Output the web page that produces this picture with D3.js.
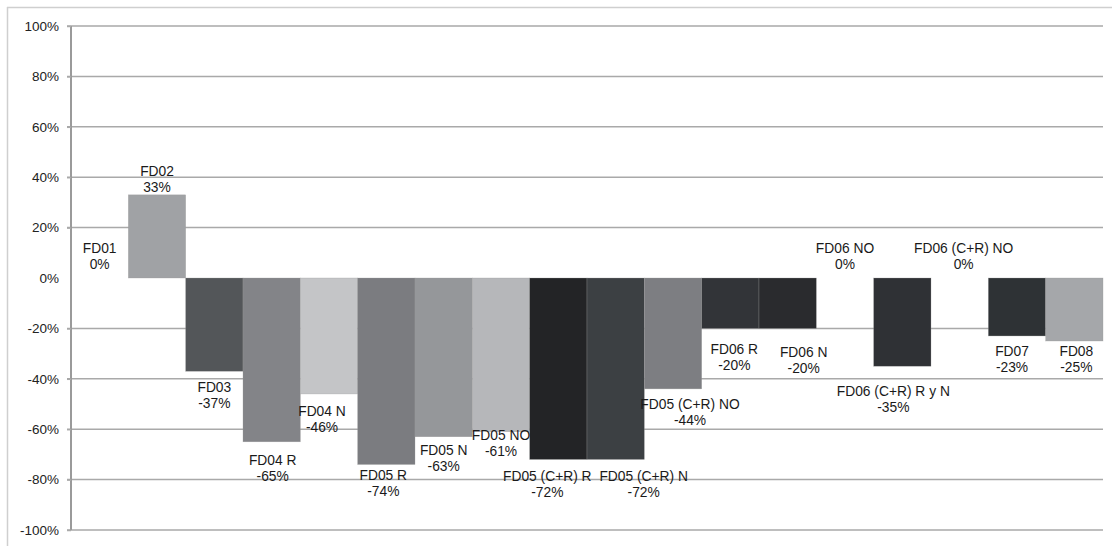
<!DOCTYPE html>
<html>
<head>
<meta charset="utf-8">
<script src="https://cdn.jsdelivr.net/npm/d3@7"></script>
<style>
  html, body { margin: 0; padding: 0; background: #fff; }
  svg { display: block; }
</style>
</head>
<body>
<svg id="chart" width="1112" height="546"></svg>
<script>
// ---- data ----
const categories = ["FD01", "FD02", "FD03", "FD04 R", "FD04 N", "FD05 R", "FD05 N", "FD05 NO",
  "FD05 (C+R) R", "FD05 (C+R) N", "FD05 (C+R) NO", "FD06 R", "FD06 N", "FD06 NO",
  "FD06 (C+R) R y N", "FD06 (C+R) NO", "FD07", "FD08"];
const values = [0, 33, -37, -65, -46, -74, -63, -61, -72, -72, -44, -20, -20, 0, -35, 0, -23, -25];
const yTicks = [-100, -80, -60, -40, -20, 0, 20, 40, 60, 80, 100];

// ---- styles / layout (not data) ----
const barColors = ["#ffffff", "#a0a2a5", "#535659", "#838488", "#c4c5c7", "#7b7c80", "#95979a", "#b6b7ba",
  "#232426", "#3c4043", "#7d7e82", "#323438", "#2a2b2e", "#ffffff", "#2f3135", "#ffffff", "#2e3235", "#a5a7aa"];
// manual label nudges (px) relative to band centre / bar end, like the hand-moved labels of the original
const labelDx = [0, 0, 0, 1, -7, -3, 0, 0, -11, 28, 17, 4, 16, 0, -9, 4, -5, 2];
const labelDy = [-30, -24, 16, 18, 17, 11, 13, 3, 17, 17, 15, 21, 24, -30, 25, -30, 15, 10];

const svg = d3.select("#chart");
const mLeft = 71, mRight = 1103, mTop = 26, mBottom = 530;

// outer frame lines
svg.append("line").attr("x1", 7).attr("x2", 1112).attr("y1", 7.5).attr("y2", 7.5)
  .attr("stroke", "#cfcfcf").attr("stroke-width", 1.5);
svg.append("line").attr("x1", 7.5).attr("x2", 7.5).attr("y1", 7).attr("y2", 546)
  .attr("stroke", "#cfcfcf").attr("stroke-width", 1.5);

const x = d3.scaleBand().domain(categories).range([mLeft, mRight]).padding(0);
const y = d3.scaleLinear().domain([-100, 100]).range([mBottom, mTop]);

// gridlines (no line at 0)
svg.append("g").selectAll("line").data(yTicks.filter(t => t !== 0)).join("line")
  .attr("x1", mLeft - 4).attr("x2", mRight)
  .attr("y1", d => y(d)).attr("y2", d => y(d))
  .attr("stroke", "#a9a9a9").attr("stroke-width", 1.5);

// bars
svg.append("g").selectAll("rect").data(values.map((v, i) => ({ v, i })).filter(d => d.v !== 0)).join("rect")
  .attr("x", d => x(categories[d.i]))
  .attr("width", x.bandwidth())
  .attr("y", d => y(Math.max(0, d.v)))
  .attr("height", d => Math.abs(y(d.v) - y(0)))
  .attr("fill", d => barColors[d.i])
  .attr("stroke", "#9a9a9a").attr("stroke-width", 0.5).attr("stroke-opacity", 0.6);

// y axis
const yAxis = d3.axisLeft(y).tickValues(yTicks).tickFormat(d => d + "%").tickSize(4).tickPadding(8);
const ga = svg.append("g").attr("transform", `translate(${mLeft},0)`).call(yAxis);
ga.select(".domain").attr("stroke", "#9a9a9a").attr("stroke-width", 2).attr("d", `M0,${mTop}V${mBottom}`);
ga.selectAll(".tick line").attr("stroke", "#a9a9a9").attr("stroke-width", 1.5);
ga.selectAll(".tick text").attr("font-family", "Liberation Sans, Arial, sans-serif")
  .attr("font-size", "13.5px").attr("fill", "#222");
ga.selectAll(".tick").filter(d => d === 0).select("line").remove();

// data labels
const lab = svg.append("g").attr("font-family", "Liberation Sans, Arial, sans-serif")
  .attr("font-size", "13.8px").attr("fill", "#1a1a1a").attr("text-anchor", "middle");
categories.forEach((c, i) => {
  const cx = x(c) + x.bandwidth() / 2 + labelDx[i];
  const cy = y(values[i]) + labelDy[i];
  const t = lab.append("text").attr("x", cx).attr("y", cy);
  t.append("tspan").attr("x", cx).attr("dy", "0.35em").text(c);
  t.append("tspan").attr("x", cx).attr("dy", "16px").text(values[i] + "%");
});
</script>
</body>
</html>
